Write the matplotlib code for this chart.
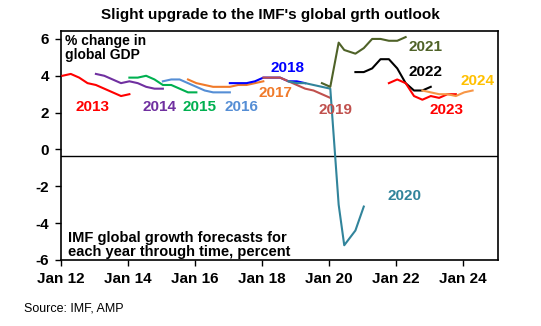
import matplotlib
matplotlib.use("Agg")
import matplotlib.pyplot as plt

plt.rcParams['font.family'] = ['Liberation Sans', 'DejaVu Sans']
plt.rcParams['axes.unicode_minus'] = False

# ---- data: IMF forecasts for each year, by release month ----
years = ["2013", "2014", "2015", "2016", "2017", "2018",
         "2019", "2020", "2021", "2022", "2023", "2024"]

d2013 = ["2012-01", "2012-04", "2012-07", "2012-10", "2013-01", "2013-04", "2013-07", "2013-10", "2014-01"]
v2013 = [4.0, 4.1, 3.9, 3.6, 3.5, 3.3, 3.1, 2.9, 3.0]
d2014 = ["2013-01", "2013-04", "2013-07", "2013-10", "2014-01", "2014-04", "2014-07", "2014-10", "2015-01"]
v2014 = [4.1, 4.0, 3.8, 3.6, 3.7, 3.6, 3.4, 3.3, 3.3]
d2015 = ["2014-01", "2014-04", "2014-07", "2014-10", "2015-01", "2015-04", "2015-07", "2015-10", "2016-01"]
v2015 = [3.9, 3.9, 4.0, 3.8, 3.5, 3.5, 3.3, 3.1, 3.1]
d2016 = ["2015-01", "2015-04", "2015-07", "2015-10", "2016-01", "2016-04", "2016-07", "2016-10", "2017-01"]
v2016 = [3.7, 3.8, 3.8, 3.6, 3.4, 3.2, 3.1, 3.1, 3.1]
d2017 = ["2015-10", "2016-01", "2016-04", "2016-07", "2016-10", "2017-01", "2017-04", "2017-07", "2017-10", "2018-01"]
v2017 = [3.8, 3.6, 3.5, 3.4, 3.4, 3.4, 3.5, 3.5, 3.6, 3.7]
d2018 = ["2017-01", "2017-04", "2017-07", "2017-10", "2018-01", "2018-04", "2018-07", "2018-10", "2019-01", "2019-04"]
v2018 = [3.6, 3.6, 3.6, 3.7, 3.9, 3.9, 3.9, 3.7, 3.7, 3.6]
d2019 = ["2018-01", "2018-04", "2018-07", "2018-10", "2019-01", "2019-04", "2019-07", "2019-10", "2020-01"]
v2019 = [3.9, 3.9, 3.9, 3.7, 3.5, 3.3, 3.2, 3.0, 2.8]
d2020 = ["2018-10", "2019-01", "2019-04", "2019-07", "2019-10", "2020-01", "2020-04", "2020-06", "2020-10", "2021-01"]
v2020 = [3.7, 3.6, 3.6, 3.5, 3.4, 3.3, -3.0, -5.2, -4.4, -3.1]
d2021 = ["2019-10", "2020-01", "2020-04", "2020-06", "2020-10", "2021-01", "2021-04", "2021-07", "2021-10", "2022-01", "2022-04"]
v2021 = [3.6, 3.4, 5.8, 5.4, 5.2, 5.5, 6.0, 6.0, 5.9, 5.9, 6.1]
d2022 = ["2020-10", "2021-01", "2021-04", "2021-07", "2021-10", "2022-01", "2022-04", "2022-07", "2022-10", "2023-01"]
v2022 = [4.2, 4.2, 4.4, 4.9, 4.9, 4.4, 3.6, 3.2, 3.2, 3.4]
d2023 = ["2021-10", "2022-01", "2022-04", "2022-07", "2022-10", "2023-01", "2023-04", "2023-07", "2023-10"]
v2023 = [3.6, 3.8, 3.6, 2.9, 2.7, 2.9, 2.8, 3.0, 3.0]
d2024 = ["2022-10", "2023-01", "2023-04", "2023-07", "2023-10", "2024-01", "2024-04"]
v2024 = [3.2, 3.1, 3.0, 3.0, 2.9, 3.1, 3.2]

tick_years = [2012, 2014, 2016, 2018, 2020, 2022, 2024]
tick_labels = ["Jan 12", "Jan 14", "Jan 16", "Jan 18", "Jan 20", "Jan 22", "Jan 24"]
y_ticks = [-6, -4, -2, 0, 2, 4, 6]

all_dates = [d2013, d2014, d2015, d2016, d2017, d2018, d2019, d2020, d2021, d2022, d2023, d2024]
all_vals = [v2013, v2014, v2015, v2016, v2017, v2018, v2019, v2020, v2021, v2022, v2023, v2024]

line_colors = ["#FF0000", "#7030A0", "#00B050", "#558ED5", "#F07A2A", "#0000FF",
               "#C0504D", "#31849B", "#4F6228", "#000000", "#FF0000", "#F79646"]
label_colors = ["#FF0000", "#7030A0", "#00B050", "#558ED5", "#F07A2A", "#0000FF",
                "#C0504D", "#31849B", "#4F6228", "#000000", "#FF0000", "#FFC000"]
# label positions (decimal year, value)
label_pos = [(2012.95, 2.3), (2014.95, 2.3), (2016.15, 2.3), (2017.4, 2.3), (2018.4, 3.05),
             (2018.75, 4.4), (2020.2, 2.15), (2022.25, -2.5), (2022.9, 5.55), (2022.9, 4.2),
             (2023.5, 2.15), (2024.45, 3.7)]


def to_dec(s):
    y, m = s.split("-")
    return int(y) + (int(m) - 0.5) / 12.0


fig = plt.figure(figsize=(5.41, 3.26), dpi=100)
ax = fig.add_axes([0.1128, 0.2025, 0.8077, 0.7035])

for d, v, c in zip(all_dates, all_vals, line_colors):
    ax.plot([to_dec(s) for s in d], v, color=c, lw=1.5, solid_joinstyle='round', zorder=3)

for yr, (lx, ly), c in zip(years, label_pos, label_colors):
    ax.text(lx, ly, yr, color=c, fontsize=11, fontweight='bold', ha='center', va='center', zorder=4)

ax.axhline(-0.35, color='black', lw=1.0, zorder=2)

ax.set_xlim(2012.0, 2025.05)
ax.set_ylim(-6, 6.45)
ax.set_xticks(tick_years)
ax.set_xticklabels(tick_labels)
ax.set_yticks(y_ticks)
ax.tick_params(axis='both', direction='out', length=4, width=1, labelsize=11)
ax.tick_params(axis='y', pad=4.5)
ax.tick_params(axis='x', pad=4.5)
for lab in ax.get_xticklabels() + ax.get_yticklabels():
    lab.set_fontweight('bold')
for sp in ax.spines.values():
    sp.set_linewidth(1.2)
    sp.set_color('black')

ax.text(0.01, 0.985, "% change in\nglobal GDP", transform=ax.transAxes, fontsize=10,
        fontweight='bold', ha='left', va='top', linespacing=1.0)
ax.text(0.016, 0.003, "IMF global growth forecasts for\neach year through time, percent",
        transform=ax.transAxes, fontsize=10.5, fontweight='bold', ha='left', va='bottom', linespacing=1.0)

fig.text(0.5, 0.955, "Slight upgrade to the IMF's global grth outlook", fontsize=11,
         fontweight='bold', ha='center', va='center')
fig.text(0.044, 0.055, "Source: IMF, AMP", fontsize=9, ha='left', va='center')

fig.savefig("out.png", dpi=100)
